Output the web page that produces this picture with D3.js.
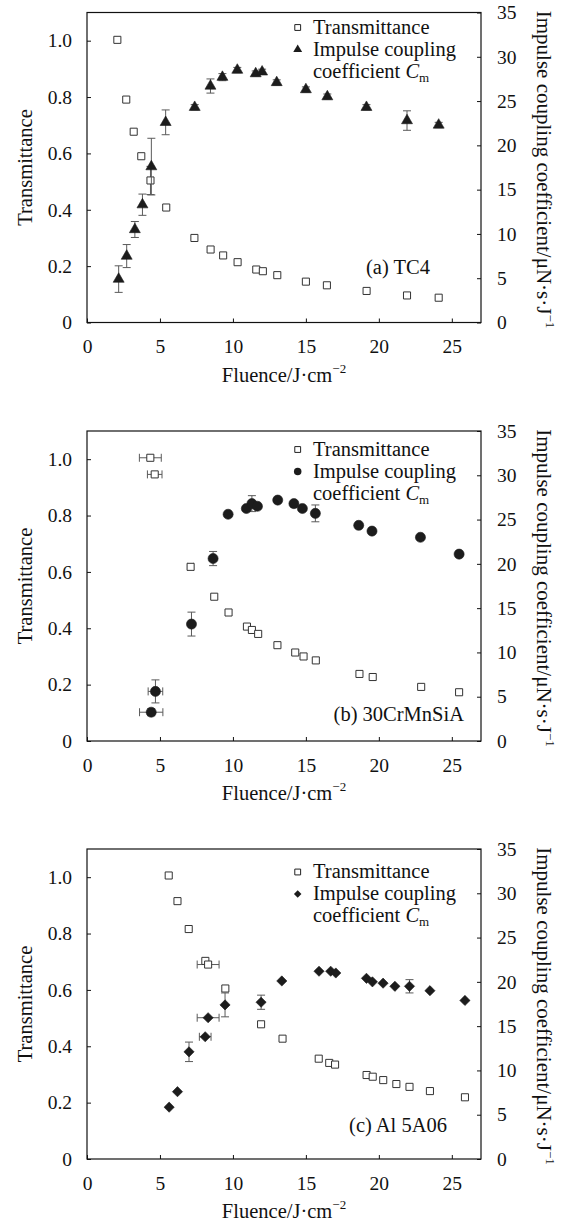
<!DOCTYPE html>
<html lang="en">
<head>
<meta charset="utf-8" />
<title>Transmittance and impulse coupling coefficient vs fluence</title>
<script src="https://unpkg.com/d3@7.9.0/dist/d3.min.js"></script>
<style>
  html,body{margin:0;padding:0;background:#fff;}
  svg{display:block;font-family:"Liberation Serif","Times New Roman",serif;}
</style>
</head>
<body>
<svg id="svg" width="564" height="1221"></svg>
<script>
// points: [fluence, value, yErr, xErr]
const tc4T = [[2.08,1.003],[2.69,0.791],[3.2,0.677],[3.72,0.59],[4.35,0.504,0.05],[5.43,0.408],
  [7.36,0.30],[8.47,0.259],[9.33,0.238],[10.32,0.214],[11.6,0.188],[12.05,0.182],[13.04,0.168],
  [15.0,0.145],[16.44,0.132],[19.16,0.112],[21.93,0.096],[24.1,0.088]];
const tc4Cm = [[2.17,4.9,1.5],[2.72,7.5,1.3],[3.28,10.5,0.9],[3.8,13.3,1.2],[4.41,17.6,3.2],[5.39,22.6,1.4],
  [7.38,24.3,0.3],[8.46,26.7,0.8],[9.28,27.7,0.4],[10.3,28.5,0.3],[11.56,28.1,0.3],[12.0,28.3,0.3],
  [13.0,27.1,0.3],[15.0,26.3,0.3],[16.47,25.5,0.3],[19.15,24.3,0.3],[21.93,22.8,1.1],[24.1,22.3,0.3]];

const crT = [[4.34,1.005,0,0.75],[4.64,0.946,0,0.5],[7.1,0.618,0,0.2],[8.72,0.512],[9.7,0.456],
  [10.96,0.406],[11.3,0.394],[11.73,0.38],[13.05,0.34],[14.27,0.314],[14.84,0.3],[15.68,0.286],
  [18.67,0.238],[19.58,0.227],[22.9,0.192],[25.5,0.173]];
const crCm = [[4.4,3.25,0.4,0.8],[4.69,5.6,1.3,0.5],[7.16,13.2,1.35],[8.64,20.6,0.8],[9.67,25.6,0.2],
  [10.92,26.25,0.2],[11.3,26.8,0.9],[11.68,26.5,0.2],[13.07,27.2,0.2],[14.18,26.8,0.2],[14.76,26.25,0.2],
  [15.65,25.7,0.95],[18.62,24.35],[19.53,23.7],[22.85,23.0],[25.5,21.1]];

const alT = [[5.6,1.006],[6.2,0.915],[6.97,0.816],[8.11,0.703],[8.3,0.69,0,0.75],[9.48,0.605],
  [11.93,0.478],[13.4,0.427],[15.88,0.356],[16.6,0.341],[17.0,0.335],[19.16,0.298],[19.58,0.292],
  [20.3,0.28],[21.2,0.266],[22.1,0.256],[23.5,0.241],[25.9,0.219]];
const alCm = [[5.63,5.85],[6.2,7.6],[6.99,12.1,1.1],[8.1,13.8,0,0.4],[8.3,15.95,0,0.75],[9.46,17.4,1.35],
  [11.93,17.7,0.8],[13.35,20.1],[15.9,21.2],[16.7,21.2],[17.05,21.0],[19.15,20.4],[19.56,20.0],
  [20.29,19.85],[21.1,19.5],[22.1,19.5,0.75],[23.5,19.0],[25.9,17.9]];

const xTicks = [0,5,10,15,20,25];
const tTicks = [0,0.2,0.4,0.6,0.8,1.0];
const cmTicks = [0,5,10,15,20,25,30,35];
const legendT = 'Transmittance';
const legendCm = ['Impulse coupling','coefficient '];
const xTitle = 'Fluence/J·cm';
const yTitle = 'Transmittance';
const y2Title = 'Impulse coupling coefficient/μN·s·J';

const panels = [
  {T:tc4T, Cm:tc4Cm, mark:'triangle', label:'(a) TC4',       top:12.5, lab:[430,273.5],  leg:21},
  {T:crT,  Cm:crCm,  mark:'circle',   label:'(b) 30CrMnSiA', top:431,  lab:[464,721],    leg:24.5},
  {T:alT,  Cm:alCm,  mark:'diamond',  label:'(c) Al 5A06',   top:849,  lab:[447,1132],   leg:29}
];

const svg = d3.select('#svg');
const L = 87, R = 481, PH = 310;
const x = d3.scaleLinear().domain([0,27]).range([L,R]);
const ink = '#1c1c1c', errc = '#5a5a5a';

function symbolFor(kind, big){
  if(kind==='square') return d3.symbol(d3.symbolSquare, big?50:34)();
  if(kind==='triangle') return d3.symbol(d3.symbolTriangle, big?52:34)();
  if(kind==='circle') return d3.symbol(d3.symbolCircle, big?80:44)();
  return d3.symbol(d3.symbolSquare, big?52:28)(); // diamond = rotated square
}
function drawMarks(g, pts, xs, ys, kind){
  const eb = g.append('g').attr('stroke',errc).attr('stroke-width',1);
  pts.forEach(([fx,v,ey,ex])=>{
    if(ey){
      eb.append('line').attr('x1',xs(fx)).attr('x2',xs(fx)).attr('y1',ys(v-ey)).attr('y2',ys(v+ey));
      [v-ey,v+ey].forEach(e=>eb.append('line').attr('x1',xs(fx)-4).attr('x2',xs(fx)+4).attr('y1',ys(e)).attr('y2',ys(e)));
    }
    if(ex){
      eb.append('line').attr('x1',xs(fx-ex)).attr('x2',xs(fx+ex)).attr('y1',ys(v)).attr('y2',ys(v));
      [fx-ex,fx+ex].forEach(e=>eb.append('line').attr('x1',xs(e)).attr('x2',xs(e)).attr('y1',ys(v)-4).attr('y2',ys(v)+4));
    }
  });
  g.append('g').selectAll('path').data(pts).join('path')
    .attr('d',symbolFor(kind,true))
    .attr('transform',d=>`translate(${xs(d[0])},${ys(d[1])})${kind==='diamond'?' rotate(45)':''}`)
    .attr('fill',kind==='square'?'#fff':ink)
    .attr('stroke',kind==='square'?'#333':ink)
    .attr('stroke-width',kind==='square'?1:0.6);
}

panels.forEach(p=>{
  const bot = p.top+PH;
  const yT = d3.scaleLinear().domain([0,1.1]).range([bot,p.top]);
  const yC = d3.scaleLinear().domain([0,35]).range([bot,p.top]);
  const g = svg.append('g');

  const ax = g.append('g');
  ax.append('g').attr('transform',`translate(0,${bot})`)
    .call(d3.axisBottom(x).tickValues(xTicks).tickSizeInner(-4).tickSizeOuter(0).tickPadding(17));
  ax.append('g').attr('transform',`translate(${L},0)`)
    .call(d3.axisLeft(yT).tickValues(tTicks).tickFormat(d=>d===0?'0':d3.format('.1f')(d))
      .tickSizeInner(-4).tickSizeOuter(0).tickPadding(15));
  ax.append('g').attr('transform',`translate(${R},0)`)
    .call(d3.axisRight(yC).tickValues(cmTicks).tickSizeInner(-4).tickSizeOuter(0).tickPadding(16));
  ax.selectAll('.domain').remove();
  ax.selectAll(':scope > g').attr('font-size',19.5).attr('font-family',null);
  ax.selectAll('text').attr('fill','#111');
  ax.selectAll('line').attr('stroke','#111');

  g.append('rect').attr('x',L).attr('y',p.top).attr('width',R-L).attr('height',PH)
    .attr('fill','none').attr('stroke','#111').attr('stroke-width',1.2);

  drawMarks(g, p.T, x, yT, 'square');
  drawMarks(g, p.Cm, x, yC, p.mark);

  // legend
  const lg = g.append('g').attr('font-size',20.5).attr('fill','#111');
  const ly = p.top+p.leg;
  lg.append('path').attr('d',symbolFor('square',false)).attr('transform',`translate(297.7,${ly-6})`)
    .attr('fill','#fff').attr('stroke','#222').attr('stroke-width',1);
  lg.append('text').attr('x',313).attr('y',ly).text(legendT);
  lg.append('path').attr('d',symbolFor(p.mark,false))
    .attr('transform',`translate(297.7,${ly+22-6})${p.mark==='diamond'?' rotate(45)':''}`).attr('fill',ink);
  lg.append('text').attr('x',313).attr('y',ly+22).text(legendCm[0]);
  const t3 = lg.append('text').attr('x',313).attr('y',ly+44);
  t3.append('tspan').text(legendCm[1]);
  t3.append('tspan').attr('font-style','italic').text('C');
  t3.append('tspan').attr('font-size',13).attr('dy',4).text('m');

  g.append('text').attr('x',p.lab[0]).attr('y',p.lab[1]).attr('text-anchor','end')
    .attr('font-size',20.5).attr('fill','#111').text(p.label);

  // axis titles
  const xt = g.append('text').attr('x',(L+R)/2).attr('y',bot+59).attr('text-anchor','middle')
    .attr('font-size',20.5).attr('fill','#111');
  xt.append('tspan').text(xTitle);
  xt.append('tspan').attr('font-size',13).attr('dy',-9).text('−2');

  g.append('text').attr('transform',`translate(31.5,${(p.top+bot)/2}) rotate(-90)`)
    .attr('text-anchor','middle').attr('font-size',20.5).attr('fill','#111').text(yTitle);

  const yt = g.append('text').attr('transform',`translate(537,${(p.top+bot)/2+2}) rotate(90)`)
    .attr('text-anchor','middle').attr('font-size',21).attr('fill','#111');
  yt.append('tspan').text(y2Title);
  yt.append('tspan').attr('font-size',13).attr('dy',-9).text('−1');
});
</script>
</body>
</html>
